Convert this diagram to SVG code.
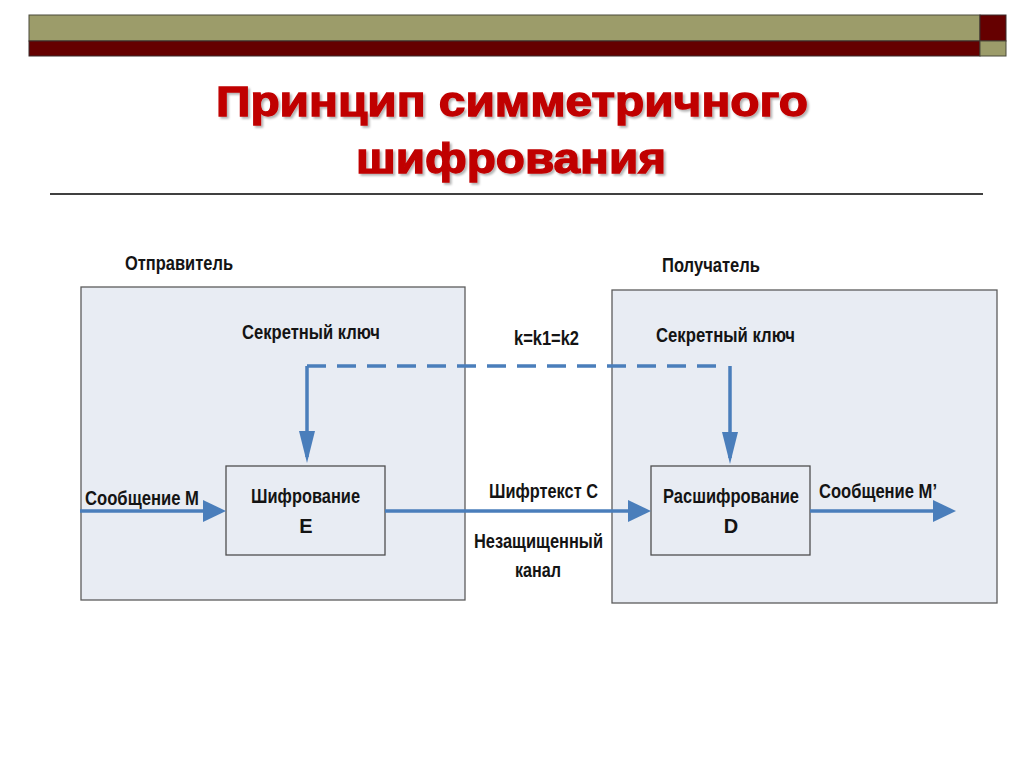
<svg xmlns="http://www.w3.org/2000/svg" width="1024" height="767" viewBox="0 0 1024 767">
<style>
.lbl{font-family:"Liberation Sans Narrow","Liberation Sans",Arial,sans-serif;font-weight:bold;font-size:20px;fill:#141414}
.title{font-family:"Liberation Sans Narrow","Liberation Sans",Arial,sans-serif;font-weight:bold;font-size:42px;fill:#C00000;stroke:#C00000;stroke-width:1.3}
.big{fill:#E8ECF3;stroke:#5C5C5C;stroke-width:1.3}
.blk{fill:#E8ECF3;stroke:#4F4F4F;stroke-width:1.3}
.ln{fill:none;stroke:#4A7EBB;stroke-width:3.5}
</style>
<defs>
<marker id="aH" markerUnits="userSpaceOnUse" markerWidth="23" markerHeight="22" refX="17" refY="11" orient="auto"><path d="M0,0 L23,11 L0,22 z" fill="#4A7EBB"/></marker>
<marker id="aV" markerUnits="userSpaceOnUse" markerWidth="32" markerHeight="16" refX="26" refY="8" orient="auto"><path d="M0,0 L32,8 L0,16 z" fill="#4A7EBB"/></marker>
<filter id="sh" x="-5%" y="-20%" width="110%" height="140%"><feDropShadow dx="2" dy="2" stdDeviation="1" flood-color="#000" flood-opacity="0.3"/></filter>
</defs>
<rect width="1024" height="767" fill="#FFFFFF"/>
<g id="header">
<rect x="29" y="15" width="951" height="26" fill="#9C9C6A" stroke="#4a4a3a" stroke-width="1"/>
<rect x="29" y="41" width="951" height="15" fill="#650000" stroke="#3a2a2a" stroke-width="1"/>
<rect x="980" y="15" width="26" height="26" fill="#650000" stroke="#3a2a2a" stroke-width="1"/>
<rect x="980" y="41" width="26" height="15" fill="#9C9C6A" stroke="#4a4a3a" stroke-width="1"/>
</g>
<g id="title" filter="url(#sh)">
<text class="title" x="216" y="116" textLength="592" lengthAdjust="spacingAndGlyphs">Принцип симметричного</text>
<text class="title" x="356" y="173" textLength="310" lengthAdjust="spacingAndGlyphs">шифрования</text>
</g>
<line x1="50" y1="194" x2="983" y2="194" stroke="#404040" stroke-width="2"/>
<g id="sender">
<rect class="big" x="81" y="287" width="384" height="313"/>
<text class="lbl" x="125" y="270" textLength="108" lengthAdjust="spacingAndGlyphs">Отправитель</text>
</g>
<g id="receiver">
<rect class="big" x="612" y="290" width="385" height="313"/>
<text class="lbl" x="662" y="272" textLength="98" lengthAdjust="spacingAndGlyphs">Получатель</text>
</g>
<g id="encrypt">
<rect class="blk" x="226" y="466" width="159" height="89"/>
<text class="lbl" x="251" y="503" textLength="109" lengthAdjust="spacingAndGlyphs">Шифрование</text>
<text class="lbl" x="306" y="533" text-anchor="middle">E</text>
</g>
<g id="decrypt">
<rect class="blk" x="651" y="466" width="159" height="89"/>
<text class="lbl" x="663" y="503" textLength="136" lengthAdjust="spacingAndGlyphs">Расшифрование</text>
<text class="lbl" x="731" y="533" text-anchor="middle">D</text>
</g>
<g id="connectors">
<path class="ln" d="M307,366 L716,366" stroke-dasharray="19,11"/>
<path class="ln" d="M307,366 L307,457" marker-end="url(#aV)"/>
<path class="ln" d="M730,366 L730,458" marker-end="url(#aV)"/>
<path class="ln" d="M80,511 L220,511" marker-end="url(#aH)"/>
<path class="ln" d="M385,511 L645,511" marker-end="url(#aH)"/>
<path class="ln" d="M810,511 L950,511" marker-end="url(#aH)"/>
</g>
<g id="labels">
<text class="lbl" x="242" y="339" textLength="138" lengthAdjust="spacingAndGlyphs">Секретный ключ</text>
<text class="lbl" x="656" y="342" textLength="139" lengthAdjust="spacingAndGlyphs">Секретный ключ</text>
<text class="lbl" x="514" y="345" textLength="65" lengthAdjust="spacingAndGlyphs">k=k1=k2</text>
<text class="lbl" x="85" y="505" textLength="114" lengthAdjust="spacingAndGlyphs">Сообщение M</text>
<text class="lbl" x="489" y="498" textLength="109" lengthAdjust="spacingAndGlyphs">Шифртекст C</text>
<text class="lbl" x="474" y="548" textLength="129" lengthAdjust="spacingAndGlyphs">Незащищенный</text>
<text class="lbl" x="515" y="577" textLength="46" lengthAdjust="spacingAndGlyphs">канал</text>
<text class="lbl" x="819" y="498" textLength="118" lengthAdjust="spacingAndGlyphs">Сообщение M’</text>
</g>
</svg>
